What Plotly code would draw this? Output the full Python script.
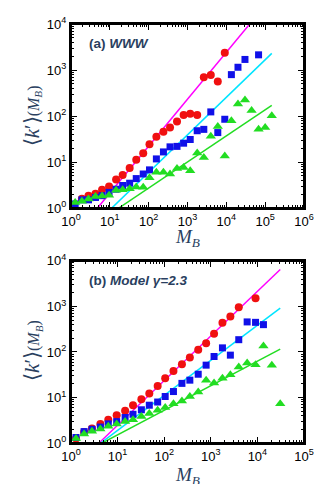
import numpy as np
import plotly.graph_objects as go

# ---------------- data: panel (a) WWW ----------------
A_RED_X = [1.91, 2.82, 4.27, 6.31, 9.55, 14.5, 21.4, 32.4, 47.9, 72.4, 105, 158, 240, 355, 537, 794,
           1175, 1778, 2630, 3981, 6026, 9120]
A_RED_Y = [1.6, 1.86, 2.05, 2.5, 2.95, 4.2, 5.25, 7.4, 11.2, 15.5, 24.3, 35.5, 45.7, 56.5, 75.9, 104.7,
           112, 104.7, 700, 776, 562, 2370]
A_BLUE_X = [1.28, 1.91, 2.82, 4.27, 6.31, 9.55, 14.5, 21.4, 32.4, 47.9, 72.4, 105, 158, 240, 355, 537, 794,
            1175, 1778, 2630, 3981, 6026, 9120, 13490, 19950, 30200, 67610]
A_BLUE_Y = [1.23, 1.51, 1.51, 1.70, 1.86, 2.19, 2.57, 3.09, 3.47, 4.37, 5.50, 6.76, 11.7, 16.6, 21.4, 21.9,
            25.7, 30.9, 47.9, 51.3, 123, 43.7, 85.1, 794, 1148, 1698, 2138]
A_GREEN_X = [1.28, 1.91, 2.82, 4.27, 6.31, 9.55, 14.5, 21.4, 32.4, 47.9, 72.4, 105, 158, 240, 355, 537, 794,
             1175, 1778, 2630, 3981, 6026, 9120, 13490, 19950, 30200, 44670, 67610, 100000, 147900]
A_GREEN_Y = [1.32, 1.41, 1.58, 1.78, 1.82, 1.91, 2.45, 2.51, 2.63, 2.88, 2.82, 4.57, 6.03, 6.03, 5.50, 7.24,
             7.59, 6.46, 15.8, 12.6, 36.3, 58.9, 13.5, 79.4, 182, 224, 132, 51.3, 56.2, 102]
# power-law fits  k = C * M^alpha  over [xmin, xmax]
A_FITS = [  # (C, alpha, xmin, xmax, color)
    (0.202, 1.02, 4.8, 40000, "#ff00ff"),
    (0.139, 0.816, 11.2, 148000, "#00e5ff"),
    (0.201, 0.566, 17.0, 148000, "#22dd22"),
]

# ---------------- data: panel (b) Model gamma=2.3 ----------------
B_RED_X = [1.28, 1.91, 2.82, 4.27, 6.31, 9.55, 14.5, 21.4, 32.4, 47.9, 72.4, 105, 158, 240, 355, 537, 794,
           1175, 1778, 2630, 3981, 9120]
B_RED_Y = [1.26, 1.74, 2.09, 2.63, 3.24, 4.07, 5.13, 6.76, 9.12, 12.3, 17.8, 26.3, 38.0, 53.7, 75.9, 112,
           155, 251, 437, 603, 955, 1514]
B_BLUE_X = [1.28, 1.91, 2.82, 4.27, 6.31, 9.55, 14.5, 21.4, 32.4, 47.9, 72.4, 105, 158, 240, 355, 537, 794,
            1175, 1778, 2630, 3981, 6026, 9120, 13490]
B_BLUE_Y = [1.32, 1.78, 2.0, 2.24, 2.63, 2.95, 3.63, 4.27, 5.37, 6.76, 7.94, 10.5, 13.5, 20.4, 24.0, 32.4,
            51.3, 79.4, 123, 85.1, 186, 457, 447, 398]
B_GREEN_X = [1.28, 1.91, 2.82, 4.27, 6.31, 9.55, 14.5, 21.4, 32.4, 47.9, 72.4, 105, 158, 240, 355, 537, 794,
             1175, 1778, 2630, 3981, 6026, 9120, 13490, 20400, 30900]
B_GREEN_Y = [1.26, 1.58, 1.82, 2.04, 2.34, 2.63, 2.95, 3.24, 3.80, 4.47, 5.25, 6.03, 7.24, 8.32, 10.5, 13.2,
             24.0, 20.9, 26.3, 31.6, 46.8, 57.5, 52.5, 135, 51.3, 7.24]
B_FITS = [
    (0.258, 0.98, 4.0, 30900, "#ff00ff"),
    (0.321, 0.77, 4.4, 30900, "#00e5ff"),
    (0.435, 0.54, 4.7, 30900, "#22dd22"),
]

A_XTICKS = [0, 1, 2, 3, 4, 5, 6]
B_XTICKS = [0, 1, 2, 3, 4, 5]
YTICKS = [0, 1, 2, 3, 4]

RED = "#f01010"
BLUE = "#1010e8"
GREEN = "#22dd22"

fig = go.Figure()

def add_panel(fits, red, blue, green, xa, ya):
    for C, alpha, x0, x1, col in fits:
        xs = np.array([x0, x1], dtype=float)
        fig.add_trace(go.Scatter(x=xs, y=C * xs ** alpha, mode="lines",
                                 line=dict(color=col, width=1.5),
                                 xaxis=xa, yaxis=ya, showlegend=False, hoverinfo="skip"))
    for (xv, yv), sym, col, sz in [(red, "circle", RED, 8), (blue, "square", BLUE, 7),
                                   (green, "triangle-up", GREEN, 9)]:
        fig.add_trace(go.Scatter(x=xv, y=yv, mode="markers",
                                 marker=dict(symbol=sym, color=col, size=sz, line=dict(width=0)),
                                 xaxis=xa, yaxis=ya, showlegend=False, cliponaxis=True))

add_panel(A_FITS, (A_RED_X, A_RED_Y), (A_BLUE_X, A_BLUE_Y), (A_GREEN_X, A_GREEN_Y), "x", "y")
add_panel(B_FITS, (B_RED_X, B_RED_Y), (B_BLUE_X, B_BLUE_Y), (B_GREEN_X, B_GREEN_Y), "x2", "y2")

TICKFONT = dict(family="Liberation Sans, Arial, sans-serif", size=13, color="black")

def pow_labels(exps):
    return ["10<sup>%d</sup>" % e for e in exps]

def minor_vals(exps):
    return [m * 10 ** e for e in exps[:-1] for m in range(2, 10)]

def axis_common(exps):
    return dict(type="log", tickmode="array", tickvals=[10 ** e for e in exps],
                ticktext=pow_labels(exps), ticks="inside", ticklen=6, tickwidth=1,
                tickcolor="black", showline=True, linecolor="black", linewidth=2,
                mirror="allticks", showgrid=False, zeroline=False, tickfont=TICKFONT,
                minor=dict(tickmode="array", tickvals=minor_vals(exps), ticks="inside",
                           ticklen=3, tickwidth=1, tickcolor="black", showgrid=False))

TOP_DOM = [0.5607, 1.0]
BOT_DOM = [0.0, 0.4346]

# page body has an 8px margin: shrink the figure so it fits the 327x484 window
fig.update_layout(
    width=319, height=476,
    margin=dict(l=63, r=23, t=7, b=41),
    paper_bgcolor="white", plot_bgcolor="white",
    xaxis=dict(axis_common(A_XTICKS), range=[0, 6], domain=[0, 1], anchor="y"),
    yaxis=dict(axis_common(YTICKS), range=[0, 4], domain=TOP_DOM, anchor="x"),
    xaxis2=dict(axis_common(B_XTICKS), range=[0, 5], domain=[0, 1], anchor="y2"),
    yaxis2=dict(axis_common(YTICKS), range=[0, 4], domain=BOT_DOM, anchor="x2"),
)

# frame boxes
for xr, yr in [("x domain", "y domain"), ("x2 domain", "y2 domain")]:
    fig.add_shape(type="rect", xref=xr, yref=yr, x0=0, x1=1, y0=0, y1=1,
                  line=dict(color="black", width=2), layer="above")

SERIF = "Liberation Serif, Times New Roman, serif"
ytitle = "⟨<i>k</i>′⟩<span style='font-size:16px'>(<i>M<sub>B</sub></i>)</span>"
xtitle = "<i>M<sub>B</sub></i>"

annots = [
    dict(text=ytitle, x=-0.167, y=0.780, textangle=-90, font=dict(family=SERIF, size=21)),
    dict(text=ytitle, x=-0.167, y=0.220, textangle=-90, font=dict(family=SERIF, size=21)),
    dict(text=xtitle, x=0.5, y=0.490, font=dict(family=SERIF, size=19)),
    dict(text=xtitle, x=0.5, y=-0.078, font=dict(family=SERIF, size=19)),
    dict(text="<b>(a) <i>WWW</i></b>", x=0.0687, y=0.953, xanchor="left",
         font=dict(family="Liberation Sans, Arial, sans-serif", size=13.5)),
    dict(text="<b>(b) <i>Model γ=2.3</i></b>", x=0.0687, y=0.388, xanchor="left",
         font=dict(family="Liberation Sans, Arial, sans-serif", size=13.5)),
]
for a in annots:
    a.setdefault("xanchor", "center")
    fig.add_annotation(xref="paper", yref="paper", showarrow=False, yanchor="middle",
                       **a)

fig.write_html("out.html")
